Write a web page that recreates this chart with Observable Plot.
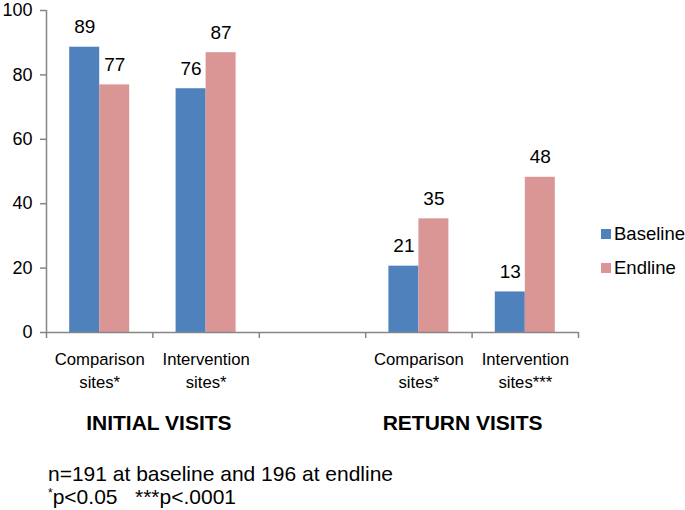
<!DOCTYPE html>
<html>
<head>
<meta charset="utf-8">
<script src="https://cdn.jsdelivr.net/npm/d3@7"></script>
<script src="https://cdn.jsdelivr.net/npm/@observablehq/plot@0.6"></script>
<style>
  body { margin: 0; background: #fff; font-family: "Liberation Sans", Arial, sans-serif; }
  #wrap { position: relative; width: 685px; }
  .leg { position: absolute; left: 601px; display: flex; align-items: center; font-size: 18.5px; color: #000; height: 24px; }
  .leg span.sw { display: inline-block; width: 10px; height: 10px; margin-right: 3px; }
  #foot { padding: 22px 0 0 48px; font-size: 21px; line-height: 23px; color: #000; white-space: nowrap; }
  #foot sup { font-size: 12px; vertical-align: 7px; line-height: 0; }
</style>
</head>
<body>
<div id="wrap"></div>
<script>
// ---- data ----
const slots = ["Comparison\nsites*", "Intervention\nsites*", "", "Comparison\nsites*", "Intervention\nsites***"];
const series = ["Baseline", "Endline"];
const baseline = [88.6, 75.7, null, 20.6, 12.6];
const endline = [76.9, 86.9, null, 35.3, 48.2];
const groups = ["INITIAL VISITS", "RETURN VISITS"];
const groupSlots = [[0, 1], [3, 4]];
const yTicks = [0, 20, 40, 60, 80, 100];
const colors = ["#4F81BD", "#D99694"];

// ---- layout ----
const W = 685, H = 440, mL = 46, mR = 107, mT = 10, mB = 108;
const slotPx = (W - mL - mR) / slots.length;
const f = 30 / slotPx; // bar width in slot units
const groupNudge = [6, -9.5];
const grey = "#868686";
const font = "'Liberation Sans', Arial, sans-serif";

const rows = [];
slots.forEach((s, i) => {
  [baseline, endline].forEach((arr, k) => {
    if (arr[i] != null) rows.push({slot: i, series: series[k], k, value: arr[i]});
  });
});
const slotRows = slots.map((s, i) => ({slot: i, label: s})).filter(d => d.label !== "");

const chart = Plot.plot({
  width: W, height: H,
  marginLeft: mL, marginRight: mR, marginTop: mT, marginBottom: mB,
  style: {fontFamily: font, background: "white", overflow: "visible"},
  x: {domain: [0, slots.length], axis: null},
  y: {domain: [0, 100], axis: null},
  color: {domain: series, range: colors},
  marks: [
    Plot.rectY(rows, {
      x1: d => d.slot + 0.5 - (d.k === 0 ? f : 0),
      x2: d => d.slot + 0.5 + (d.k === 0 ? 0 : f),
      y: "value", fill: "series"
    }),
    Plot.text(rows, {
      x: d => d.slot + 0.5 + (d.k === 0 ? -f / 2 : f / 2),
      y: "value", text: d => String(Math.round(d.value)),
      dy: -20, fontSize: 19, fill: "black", lineAnchor: "middle"
    }),
    Plot.ruleX([0], {y1: 0, y2: 100, stroke: grey, strokeWidth: 1.5}),
    Plot.ruleY([0], {x1: 0, x2: slots.length, stroke: grey, strokeWidth: 1.5}),
    Plot.axisY({ticks: yTicks, tickSize: 6, tickPadding: 8, fontSize: 18, stroke: grey, fill: "black", label: null, strokeWidth: 1.5}),
    Plot.axisX({ticks: d3.range(slots.length + 1), tickSize: 6, tickFormat: () => "", stroke: grey, label: null, strokeWidth: 1.5}),
    Plot.text(slotRows, {x: d => d.slot + 0.5, y: 0, text: "label", dy: 36.5, fontSize: 16.7, lineHeight: 1.38, lineAnchor: "middle", fill: "black"}),
    ...groups.map((g, j) => Plot.text([g], {
      x: (groupSlots[j][0] + groupSlots[j][1] + 1) / 2, y: 0, text: d => d,
      dx: groupNudge[j], dy: 91, fontSize: 21, fontWeight: "bold", lineAnchor: "middle", fill: "black"
    }))
  ]
});

const wrap = document.getElementById("wrap");
wrap.appendChild(chart);

// legend
const legTops = [222, 256];
series.forEach((s, k) => {
  const el = document.createElement("div");
  el.className = "leg";
  el.style.top = legTops[k] + "px";
  el.innerHTML = `<span class="sw" style="background:${colors[k]}"></span>${s}`;
  wrap.appendChild(el);
});

// caption
const foot = document.createElement("div");
foot.id = "foot";
foot.innerHTML = "n=191 at baseline and 196 at endline<br><sup>*</sup>p&lt;0.05&nbsp;&nbsp;&nbsp;***p&lt;.0001";
wrap.appendChild(foot);
</script>
</body>
</html>
